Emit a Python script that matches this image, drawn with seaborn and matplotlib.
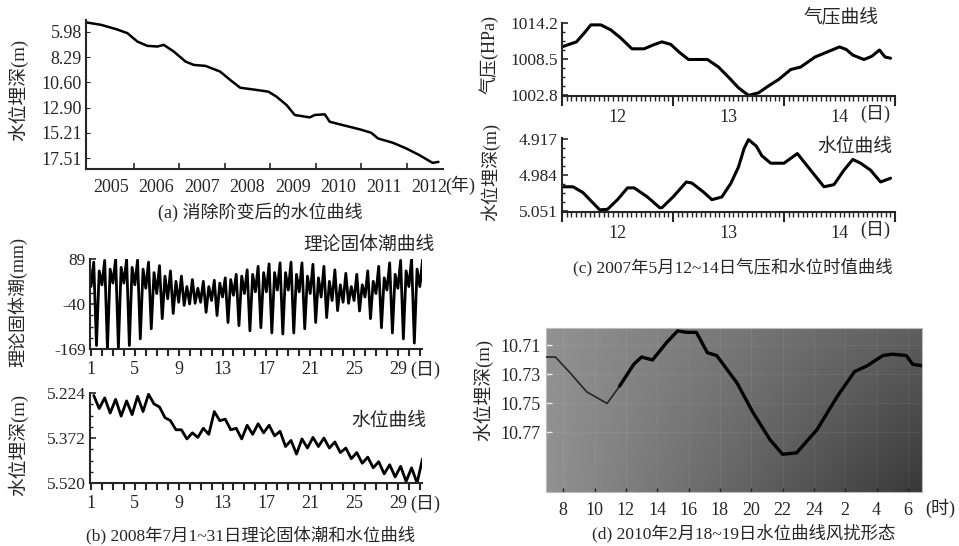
import numpy as np
import pandas as pd
import seaborn as sns
import matplotlib.pyplot as plt
from matplotlib.ticker import MultipleLocator, AutoMinorLocator

# (a) water level depth after removing steps, 2005-2012
a_year = [2004.97, 2005.28, 2005.61, 2005.86, 2006.08, 2006.30, 2006.52, 2006.66, 2006.88,
          2007.14, 2007.32, 2007.58, 2007.90, 2008.12, 2008.34, 2008.71, 2008.96, 2009.14,
          2009.36, 2009.54, 2009.87, 2009.98, 2010.20, 2010.31, 2010.68, 2010.97, 2011.22,
          2011.37, 2011.70, 2011.99, 2012.28, 2012.57, 2012.70]
a_depth = [5.13, 5.34, 5.73, 6.10, 6.87, 7.26, 7.32, 7.17, 7.78,
           8.70, 9.00, 9.09, 9.61, 10.37, 11.08, 11.29, 11.44, 11.90,
           12.66, 13.57, 13.79, 13.57, 13.51, 14.19, 14.58, 14.88, 15.19,
           15.71, 16.11, 16.62, 17.23, 17.94, 17.85]
a_yticks = [5.98, 8.29, 10.60, 12.90, 15.21, 17.51]
a_years = list(range(2005, 2013))

# (b) July 2008, per-day extremes of the theoretical earth tide (mm) and water level depth (m)
b_days = list(range(1, 32))
tide_lo2 = [10, 15, 20, 20, 15, 5, -10, -25, -35, -40, -35, -30, -20, -15, -10, -5,
            -5, 0, 0, -5, -10, -20, -30, -35, -30, -20, -10, 0, 5, 10, 10]
tide_hi = [80, 85, 89, 88, 86, 80, 70, 55, 40, 30, 25, 28, 35, 45, 58, 68,
           75, 78, 80, 78, 74, 68, 58, 48, 45, 55, 68, 78, 85, 89, 87]
tide_lo = [-159, -169, -166, -159, -140, -111, -82, -67, -44, -38, -64, -73, -93, -102, -117, -108,
           -123, -126, -123, -111, -93, -79, -59, -38, -60, -82, -108, -123, -140, -152, -155]
tide_hi2 = [55, 60, 65, 65, 60, 50, 40, 25, 10, 5, 10, 20, 30, 40, 45, 50,
            50, 50, 45, 40, 35, 25, 15, 10, 15, 25, 35, 45, 55, 60, 60]
wl_up = [5.232, 5.240, 5.245, 5.250, 5.235, 5.228, 5.270, 5.315, 5.345, 5.355, 5.340,
         5.285, 5.310, 5.340, 5.330, 5.325, 5.330, 5.350, 5.380, 5.375, 5.370, 5.372,
         5.385, 5.405, 5.420, 5.435, 5.450, 5.460, 5.465, 5.470, 5.440]
wl_dn = [5.275, 5.290, 5.300, 5.295, 5.285, 5.260, 5.305, 5.345, 5.375, 5.370, 5.360,
         5.315, 5.345, 5.375, 5.360, 5.355, 5.365, 5.400, 5.425, 5.405, 5.400, 5.405,
         5.420, 5.440, 5.455, 5.470, 5.490, 5.500, 5.515, 5.520, 5.475]

# (c) 12-14 May 2007 hourly pressure (hPa) and water level depth (m)
c_tp = [11.50, 11.53, 11.63, 11.70, 11.76, 11.85, 11.94, 12.03, 12.13, 12.24, 12.32, 12.40,
        12.48, 12.56, 12.64, 12.81, 12.91, 13.00, 13.09, 13.18, 13.27, 13.36, 13.45, 13.56,
        13.65, 13.78, 13.89, 14.00, 14.06, 14.12, 14.22, 14.29, 14.36, 14.41, 14.46]
c_pres = [1010.4, 1010.6, 1011.2, 1012.6, 1013.9, 1013.9, 1013.1, 1011.8, 1010.1, 1010.1,
          1010.7, 1011.2, 1010.8, 1009.5, 1008.4, 1008.4, 1007.2, 1005.6, 1003.9, 1002.7,
          1003.1, 1004.2, 1005.2, 1006.8, 1007.2, 1008.8, 1009.6, 1010.4, 1010.0, 1009.1,
          1008.4, 1008.9, 1009.9, 1008.8, 1008.6]
c_tw = [11.50, 11.60, 11.69, 11.76, 11.84, 11.91, 12.00, 12.09, 12.15, 12.27, 12.38, 12.40,
        12.50, 12.62, 12.67, 12.77, 12.85, 12.94, 13.02, 13.09, 13.14, 13.18, 13.25, 13.30,
        13.38, 13.50, 13.62, 13.74, 13.86, 13.95, 14.04, 14.12, 14.19, 14.28, 14.37, 14.46]
c_wl = [5.006, 5.006, 5.017, 5.032, 5.049, 5.048, 5.030, 5.008, 5.008, 5.025, 5.045, 5.045,
        5.025, 4.997, 4.999, 5.015, 5.030, 5.025, 5.000, 4.969, 4.935, 4.918, 4.930, 4.948,
        4.962, 4.962, 4.944, 4.975, 5.006, 5.002, 4.975, 4.955, 4.962, 4.975, 4.997, 4.990]

# (d) 18-19 Feb 2010 water level depth (m), hours counted on from 18th 0h
d_hour = [6.9, 7.5, 8.45, 9.5, 10.8, 11.6, 12.5, 13.0, 13.7, 14.6, 15.3, 15.9, 16.5, 17.2,
          17.8, 19.1, 20.1, 21.2, 22.0, 22.9, 24.2, 25.5, 26.6, 27.4, 28.4, 29.0, 29.9, 30.3, 30.9]
d_depth = [10.718, 10.718, 10.729, 10.742, 10.750, 10.738, 10.723, 10.718, 10.720, 10.708,
           10.700, 10.701, 10.701, 10.715, 10.717, 10.736, 10.756, 10.775, 10.785, 10.784,
           10.768, 10.745, 10.728, 10.724, 10.717, 10.716, 10.717, 10.723, 10.724]
d_ticks = [8, 10, 12, 14, 16, 18, 20, 22, 24, 26, 28, 30]
d_labels = ['8', '10', '12', '14', '16', '18', '20', '22', '24', '2', '4', '6']
d_yticks = [10.71, 10.73, 10.75, 10.77]

sns.set_style("ticks")
plt.rcParams['font.family'] = ['Liberation Serif', 'Noto Sans CJK SC']
plt.rcParams['axes.unicode_minus'] = False
plt.rcParams['axes.linewidth'] = 1.5

W, H = 959, 546
fig = plt.figure(figsize=(W / 100, H / 100), dpi=100)


def panel(x0, y0, x1, y1):
    ax = fig.add_axes([x0 / W, 1 - y1 / H, (x1 - x0) / W, (y1 - y0) / H])
    return ax


def ftext(x, y, s, size=13, **kw):
    fig.text(x / W, 1 - y / H, s, fontsize=size, ha=kw.pop('ha', 'center'), va='center', **kw)


def finish(ax):
    ax.set_xlabel('')
    ax.set_ylabel('')
    sns.despine(ax=ax)


# ---------------- (a)
ax = panel(86, 20, 443, 169)
sns.lineplot(x=a_year, y=a_depth, ax=ax, color='black', lw=1.8, estimator=None)
ax.set_xlim(2004.95, 2012.8)
ax.set_ylim(18.5, 4.9)
ax.set_yticks(a_yticks, [f'{v:.2f}' for v in a_yticks])
ax.set_xticks(a_years[1:], [''] * 7)
ax.set_xticks([y + 0.5 for y in a_years], [str(y) for y in a_years], minor=True)
ax.tick_params(axis='x', which='major', direction='in', length=4, width=1.2)
ax.tick_params(axis='x', which='minor', length=0, pad=7, labelsize=13)
ax.tick_params(axis='y', direction='in', length=3, labelsize=13, pad=3)
finish(ax)
ftext(445, 185, '(年)', ha='left')
ftext(18, 90, '水位埋深(m)', size=13.5, rotation=90)
ftext(260, 212, '(a) 消除阶变后的水位曲线', size=13)

# ---------------- (b)
offs = (0.0, 0.25, 0.5, 0.75)
tide_t = np.column_stack([np.array(b_days) + o for o in offs]).ravel()
tide_v = np.column_stack([tide_lo2, tide_hi, tide_lo, tide_hi2]).ravel()
wl_t = np.column_stack([np.array(b_days) + 0.25, np.array(b_days) + 0.75]).ravel()
wl_v = np.column_stack([wl_up, wl_dn]).ravel()
tide_df = pd.DataFrame({'day': tide_t, 'tide': tide_v})
wl_df = pd.DataFrame({'day': wl_t, 'depth': wl_v})

for (y0, y1), df, col, ylim, yt, ylab in [
        ((259, 349), tide_df, 'tide', (-169, 89), [89, -40, -169], ['89', '-40', '-169']),
        ((393, 483), wl_df, 'depth', (5.52, 5.224), [5.224, 5.372, 5.520], ['5.224', '5.372', '5.520'])]:
    ax = panel(90, y0, 422, y1)
    sns.lineplot(data=df, x='day', y=col, ax=ax, color='black', lw=2.0, estimator=None)
    ax.set_xlim(0.91, 31.2)
    ax.set_ylim(*ylim)
    ax.set_yticks(yt, ylab)
    ax.yaxis.set_minor_locator(AutoMinorLocator(4))
    ax.set_xticks(list(range(1, 30, 4)))
    ax.xaxis.set_minor_locator(MultipleLocator(1))
    ax.tick_params(axis='x', which='both', direction='out', length=5, width=1.5, labelsize=13, pad=4)
    ax.tick_params(axis='y', which='major', direction='in', length=4, width=1.2, labelsize=12.5, pad=3)
    ax.tick_params(axis='y', which='minor', direction='in', length=2.5, width=1)
    finish(ax)
    ftext(410, y1 + 21, '(日)', ha='left')

ftext(369, 245, '理论固体潮曲线', size=13.5)
ftext(389, 421, '水位曲线', size=13.5)
ftext(18, 302, '理论固体潮(mm)', size=13, rotation=90)
ftext(18, 445, '水位埋深(m)', size=13.5, rotation=90)
ftext(251, 535, '(b) 2008年7月1~31日理论固体潮和水位曲线', size=12.5)

# ---------------- (c)
press_df = pd.DataFrame({'day': c_tp, 'hpa': c_pres})
cwl_df = pd.DataFrame({'day': c_tw, 'depth': c_wl})
for (y0, y1), df, col, ylim, yt, ylab in [
        ((23, 96), press_df, 'hpa', (1002.6, 1014.2), [1014.2, 1008.5, 1002.8], ['1014.2', '1008.5', '1002.8']),
        ((138, 212), cwl_df, 'depth', (5.053, 4.915), [4.917, 4.984, 5.051], ['4.917', '4.984', '5.051'])]:
    ax = panel(562, y0, 895, y1)
    sns.lineplot(data=df, x='day', y=col, ax=ax, color='black', lw=2.2, estimator=None)
    ax.set_xlim(11.5, 14.47)
    ax.set_ylim(*ylim)
    ax.set_yticks(yt, ylab)
    ax.yaxis.set_minor_locator(AutoMinorLocator(4))
    ax.set_xticks([11.5, 12.5, 13.5, 14.5], [''] * 4)
    ax.xaxis.set_minor_locator(MultipleLocator(1 / 24))
    ax.tick_params(axis='x', which='major', direction='out', length=7, width=1.5)
    ax.tick_params(axis='x', which='minor', direction='out', length=3.5, width=1)
    ax.tick_params(axis='y', which='major', direction='in', length=4, width=1.2, labelsize=12.5, pad=3)
    ax.tick_params(axis='y', which='minor', direction='in', length=2.5, width=1)
    sec = ax.secondary_xaxis('bottom')
    sec.set_xticks([12, 13, 14], ['12', '13', '14'])
    sec.tick_params(length=0, labelsize=13, pad=9)
    sec.spines['bottom'].set_visible(False)
    finish(ax)
    ftext(860, y1 + 18, '(日)', ha='left')

ftext(841, 18, '气压曲线', size=13.5)
ftext(855, 147, '水位曲线', size=13.5)
ftext(489, 55, '气压(HPa)', size=13, rotation=90)
ftext(490, 172, '水位埋深(m)', size=13, rotation=90)
ftext(733, 267, '(c) 2007年5月12~14日气压和水位时值曲线', size=12.5)

# ---------------- (d)
ax = panel(546, 328, 922, 492)
gx, gy = np.meshgrid(np.linspace(0, 1, 300), np.linspace(0, 1, 150))
shade = 0.57 - 0.20 * gx - 0.15 * gx * gy
ax.imshow(shade, cmap='gray', vmin=0, vmax=1, extent=(0, 1, 0, 1), origin='upper',
          transform=ax.transAxes, aspect='auto', zorder=0, interpolation='bilinear')
d_df = pd.DataFrame({'hour': d_hour, 'depth': d_depth})
thick = d_df[d_df['hour'] >= 11.6]
# whole trace thin, then the wind-disturbed part drawn heavier on top
sns.lineplot(data=d_df, x='hour', y='depth', ax=ax, color='#262626', lw=1.2, estimator=None,
             sort=False, zorder=3)
sns.lineplot(data=thick, x='hour', y='depth', ax=ax, color='black', lw=2.4, estimator=None,
             sort=False, zorder=4)
ax.set_xlim(6.9, 30.9)
ax.set_ylim(10.811, 10.698)
ax.set_xticks(d_ticks, d_labels)
ax.set_yticks(d_yticks, [f'{v:.2f}' for v in d_yticks])
ax.grid(True, color='white', alpha=0.07, lw=0.6)
ax.tick_params(axis='x', direction='in', length=3, width=1, color='#222222', labelsize=13, pad=7)
ax.tick_params(axis='y', direction='in', length=4, width=1, color='#eeeeee', labelsize=13, pad=4)
for s in ax.spines.values():
    s.set_color('#bbbbbb')
    s.set_linewidth(0.8)
ax.set_xlabel('')
ax.set_ylabel('')
ftext(925, 508, '(时)', ha='left')
ftext(483, 390, '水位埋深(m)', size=13.5, rotation=90)
ftext(744, 533, '(d) 2010年2月18~19日水位曲线风扰形态', size=12.5)

fig.savefig('out.png', dpi=100)
